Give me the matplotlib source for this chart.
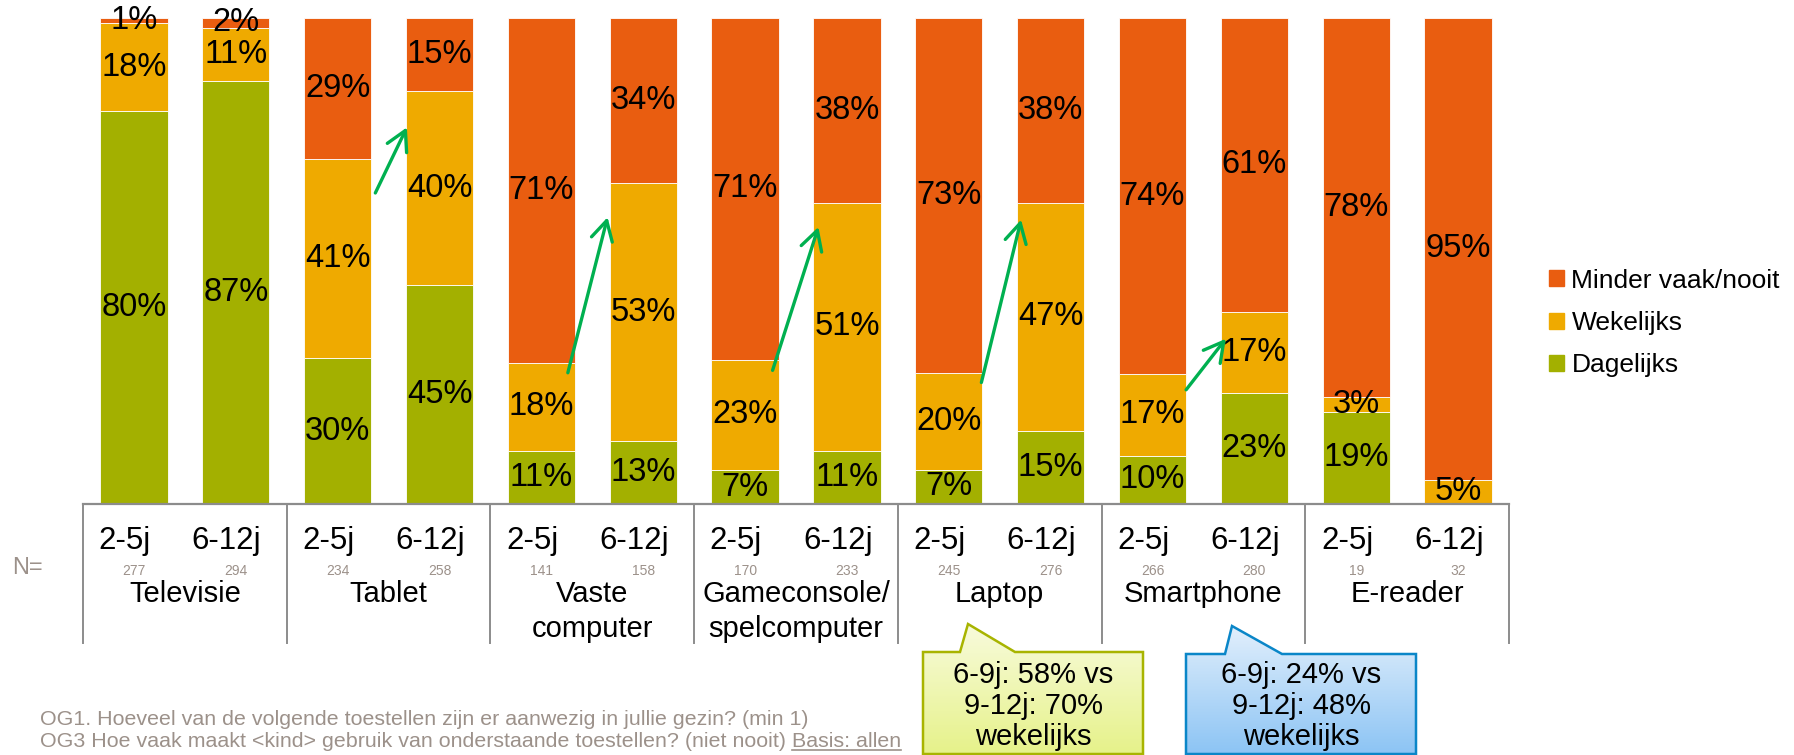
import numpy as np
import matplotlib.pyplot as plt
from matplotlib.patches import Patch, Polygon
from matplotlib.lines import Line2D
from matplotlib.colors import LinearSegmentedColormap
from matplotlib.transforms import blended_transform_factory

plt.rcParams['font.family'] = ['Liberation Sans', 'DejaVu Sans']

devices = ['Televisie', 'Tablet', 'Vaste\ncomputer', 'Gameconsole/\nspelcomputer',
           'Laptop', 'Smartphone', 'E-reader']
ages = ['2-5j', '6-12j']
n_base = [277, 294, 234, 258, 141, 158, 170, 233, 245, 276, 266, 280, 19, 32]
dagelijks = [80, 87, 30, 45, 11, 13, 7, 11, 7, 15, 10, 23, 19, 0]
wekelijks = [18, 11, 41, 40, 18, 53, 23, 51, 20, 47, 17, 17, 3, 5]
minder = [1, 2, 29, 15, 71, 34, 71, 38, 73, 38, 74, 61, 78, 95]
series_names = ['Dagelijks', 'Wekelijks', 'Minder vaak/nooit']
colors = ['#A3B000', '#EFAA00', '#E95D10']

# green arrows: from the 2-5j bar to the 6-12j bar (levels in %)
arrow_bars = [2, 4, 6, 8, 10]
arrow_from = [64, 27, 27.5, 25, 23.5]
arrow_to = [77.5, 59, 57, 58.5, 34]
arrow_x0 = [0.37, 0.26, 0.27, 0.32, 0.33]
arrow_x1 = [0.68, 0.65, 0.72, 0.71, 0.72]

grey = '#9C918A'
W, H = 1794, 755
fig = plt.figure(figsize=(W / 100, H / 100), dpi=100)
ax = fig.add_axes([83 / W, 1 - 504 / H, 1426 / W, 486 / H])

x = np.arange(len(n_base))
stack = np.array([dagelijks, wekelijks, minder], dtype=float)
shares = stack / stack.sum(axis=0) * 100
bottom = np.zeros(len(x))
for vals, share, name, col in zip(stack, shares, series_names, colors):
    ax.bar(x, share, 0.66, bottom=bottom, color=col, edgecolor='white',
           linewidth=0.6, label=name)
    for xi, v, b, s in zip(x, vals, bottom, share):
        if v > 0:
            ax.text(xi, b + s / 2, f'{int(v)}%', ha='center', va='center',
                    fontsize=23.5)
    bottom += share

ax.set_xlim(-0.5, len(x) - 0.5)
ax.set_ylim(0, 100)
ax.axis('off')

# arrows
for g, y0, y1, dx0, dx1 in zip(arrow_bars, arrow_from, arrow_to, arrow_x0, arrow_x1):
    ax.annotate('', xy=(g + dx1, y1), xytext=(g + dx0, y0),
                arrowprops=dict(arrowstyle='->,head_length=1.0,head_width=0.55',
                                color='#00B050', lw=2.4, shrinkA=0, shrinkB=0,
                                mutation_scale=14))

# category table below the bars
trans = blended_transform_factory(ax.transData, ax.transAxes)
ax.axhline(0, color='#8C8C8C', lw=1.6, clip_on=False)
for b in np.arange(-0.5, len(x), 2):
    ax.plot([b, b], [0, -0.286], transform=trans, color='#8C8C8C', lw=1.4,
            clip_on=False)
for xi in x:
    ax.text(xi - 0.09, -0.0936, ages[xi % 2], transform=trans, ha='center',
            va='baseline', fontsize=22.5)
    ax.text(xi, -0.146, str(n_base[xi]), transform=trans, ha='center',
            va='baseline', fontsize=10, color=grey)
for gi, name in enumerate(devices):
    for li, line in enumerate(name.split('\n')):
        ax.text(2 * gi + 0.5, -0.202 - li * 35 / 486, line, transform=trans,
                ha='center', va='baseline', fontsize=21)

fig.text(12 / W, 1 - 574 / H, 'N=', fontsize=17, color=grey, va='baseline')

# legend
handles = [Patch(color=c, label=n) for c, n in zip(colors, series_names)][::-1]
fig.legend(handles=handles, loc='center left', bbox_to_anchor=(1549 / W, 1 - 323 / H),
           frameon=False, fontsize=19, handlelength=0.55, handleheight=0.55,
           handletextpad=0.3, labelspacing=0.7, borderpad=0, borderaxespad=0)

# footnote
fs = 15.4
fig.text(40 / W, 1 - 725 / H,
         'OG1. Hoeveel van de volgende toestellen zijn er aanwezig in jullie gezin? (min 1)',
         fontsize=fs, color=grey, va='baseline')
t2 = fig.text(40 / W, 1 - 747 / H,
              'OG3 Hoe vaak maakt <kind> gebruik van onderstaande toestellen? (niet nooit)',
              fontsize=fs, color=grey, va='baseline')
fig.canvas.draw()
bb = t2.get_window_extent()
t3 = fig.text((bb.x1 + 6) / W, 1 - 747 / H, 'Basis: allen', fontsize=fs,
              color=grey, va='baseline')
fig.canvas.draw()
bb3 = t3.get_window_extent()
fig.add_artist(Line2D([bb3.x0 / W, bb3.x1 / W], [1 - 750 / H] * 2, color=grey, lw=1.2))

# callouts
ov = fig.add_axes([0, 0, 1, 1], zorder=5)
ov.patch.set_alpha(0)
callouts = [
    ([(923, 652), (960, 652), (968, 624), (1015, 652), (1143, 652), (1143, 754), (923, 754)],
     ['#F8FBDC', '#E6F28A'], '#A8B400', '6-9j: 58% vs\n9-12j: 70%\nwekelijks'),
    ([(1186, 654), (1225, 654), (1232, 626), (1282, 654), (1416, 654), (1416, 754), (1186, 754)],
     ['#E2EFFC', '#8CC4F4'], '#0A86C8', '6-9j: 24% vs\n9-12j: 48%\nwekelijks'),
]
grad = np.linspace(0, 1, 256).reshape(-1, 1)
for verts, cols, ec, txt in callouts:
    xs = [v[0] for v in verts]
    ys = [v[1] for v in verts]
    poly = Polygon(verts, closed=True, fc='none', ec=ec, lw=1.8, zorder=3)
    ov.add_patch(poly)
    im = ov.imshow(grad, extent=(min(xs), max(xs), max(ys), min(ys)), origin='upper',
                   cmap=LinearSegmentedColormap.from_list('g', cols), aspect='auto',
                   zorder=2)
    im.set_clip_path(poly)
    ov.text((min(xs) + max(xs)) / 2, 706, txt, ha='center', va='center',
            fontsize=21, linespacing=1.12, zorder=4)
ov.set_xlim(0, W)
ov.set_ylim(H, 0)
ov.axis('off')

fig.savefig('out.png', dpi=100)
